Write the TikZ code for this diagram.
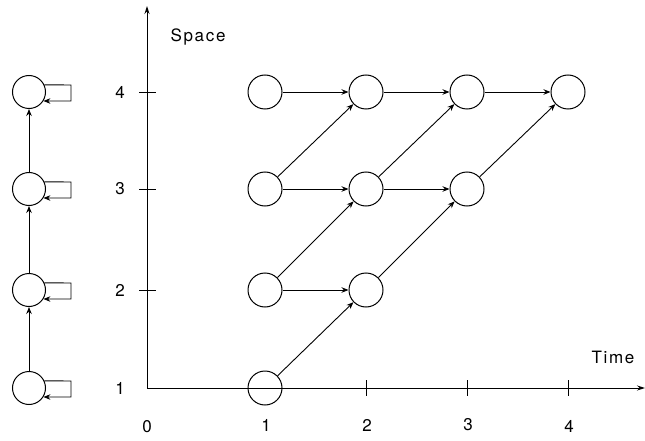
\documentclass[tikz,border=0pt]{standalone}
\usepackage{fontspec}
\setmainfont{TeX Gyre Heros}[LetterSpace=10]
\usetikzlibrary{arrows.meta}
\begin{document}
\begin{tikzpicture}[x=1pt,y=-1pt,
  st/.style={circle,draw,line width=1pt,minimum size=34pt,inner sep=0pt},
  arr/.style={line width=0.9pt,-{Stealth[length=7pt,width=5.5pt]}},
  ax/.style={line width=0.9pt},
  lbl/.style={font=\fontsize{17}{19}\selectfont}]
\useasboundingbox (0,0) rectangle (645,441);
% axes
\coordinate (O) at (147,388);
\coordinate (ytop) at (147,6);
\coordinate (xend) at (645,388);
\draw[ax,-{Stealth[length=8pt,width=5pt]}] (O) -- (ytop);
\draw[ax,-{Stealth[length=8pt,width=5pt]}] (O) -- (xend);
\foreach \y in {290,189,92} \draw[ax] (139,\y) -- (156,\y);
\foreach \x in {366,467,568} \draw[ax] (\x,380) -- (\x,396);
\node[lbl] (s) at (198,37) {Space};
\node[lbl] (t) at (613,357) {Time};
\node[lbl] (l0) at (147,427) {0};
\node[lbl] (x1) at (266,425) {1};
\node[lbl] (x2) at (367,425) {2};
\node[lbl] (x3) at (468,425) {3};
\node[lbl] (x4) at (569,426) {4};
\node[lbl] (y1) at (120,388) {1};
\node[lbl] (y2) at (120,290) {2};
\node[lbl] (y3) at (120,189) {3};
\node[lbl] (y4) at (120,92) {4};
% grid nodes
\node[st] (a11) at (265,388) {};
\node[st] (a12) at (265,290) {};
\node[st] (a22) at (366,290) {};
\node[st] (a13) at (265,189) {};
\node[st] (a23) at (366,189) {};
\node[st] (a33) at (467,189) {};
\node[st] (a14) at (265,92) {};
\node[st] (a24) at (366,92) {};
\node[st] (a34) at (467,92) {};
\node[st] (a44) at (568,92) {};
\draw[arr] (a14) -- (a24);
\draw[arr] (a24) -- (a34);
\draw[arr] (a34) -- (a44);
\draw[arr] (a13) -- (a23);
\draw[arr] (a23) -- (a33);
\draw[arr] (a12) -- (a22);
\draw[arr] (a13) -- (a24);
\draw[arr] (a23) -- (a34);
\draw[arr] (a33) -- (a44);
\draw[arr] (a12) -- (a23);
\draw[arr] (a22) -- (a33);
\draw[arr] (a11) -- (a22);
% left column
\foreach \n/\y in {b1/388,b2/290,b3/189,b4/92}{
  \node[st,minimum size=33pt] (\n) at (29,\y) {};
  \draw[arr] (\n.25) -- (71,\y-7) |- (\n.-32);
}
\draw[arr] (b1) -- (b2);
\draw[arr] (b2) -- (b3);
\draw[arr] (b3) -- (b4);
\end{tikzpicture}
\end{document}
